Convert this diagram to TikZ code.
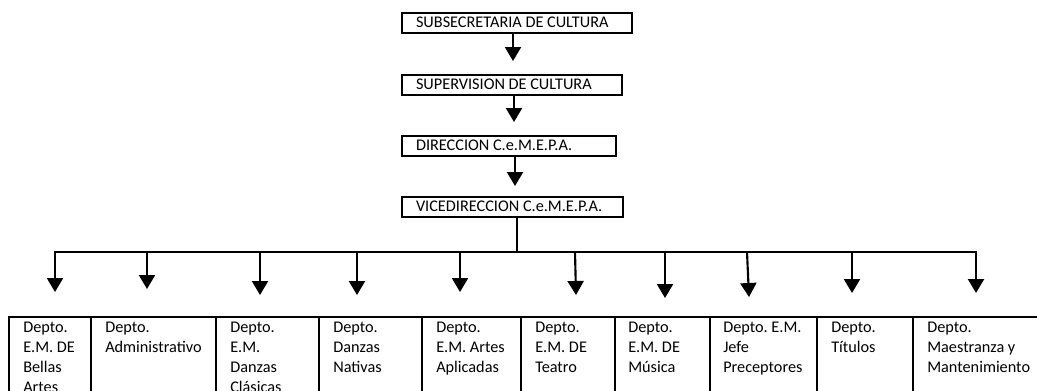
\documentclass[tikz,border=0pt]{standalone}
\usepackage{fontspec}
\setmainfont{Carlito}
\usetikzlibrary{arrows.meta}
\newcommand\dfont{\fontsize{12.2}{15}\selectfont\frenchspacing}
\tikzset{
  box/.style={draw, line width=1.5pt, anchor=north west, inner xsep=10.5pt, inner ysep=0pt, minimum height=15pt, align=flush left, font=\dfont},
  ln/.style={line width=1.5pt},
  arr/.style={line width=1.6pt, -{Triangle[length=10.5pt,width=12pt]}},
  cell/.style={draw, line width=1.5pt, anchor=north west, minimum height=75pt, inner sep=0pt},
  txt/.style={anchor=base west, inner sep=0pt, align=flush left, font=\dfont},
}
\begin{document}
\begin{tikzpicture}[x=0.75pt, y=-0.75pt]
\useasboundingbox (0,0) rectangle (1037,390);
\clip (0,0) rectangle (1037,390);
% top boxes
\node[box, text width=151.5pt] (b1) at (401,12) {\strut SUBSECRETARIA DE CULTURA};
\node[box, text width=144pt] (b2) at (401,74) {\strut SUPERVISION DE CULTURA};
\node[box, text width=139.5pt] (b3) at (401,135) {\strut DIRECCION C.e.M.E.P.A.};
\node[box, text width=144.75pt] (b4) at (401,196) {\strut VICEDIRECCION C.e.M.E.P.A.};
% arrow tips
\coordinate (t1) at (513,61);
\coordinate (t2) at (514,122);
\coordinate (t3) at (515,186);
\draw[arr] (b1.south -| t1) -- (t1);
\draw[arr] (b2.south -| t2) -- (t2);
\draw[arr] (b3.south -| t3) -- (t3);
% bus
\coordinate (j) at (517,252);
\draw[ln] (b4.south -| j) -- (j);
\coordinate (s1) at (55,252);
\coordinate (s2) at (147,252);
\coordinate (s3) at (260,252);
\coordinate (s4) at (357,252);
\coordinate (s5) at (460,252);
\coordinate (s6) at (575,252);
\coordinate (s7) at (665,252);
\coordinate (s8) at (747,252);
\coordinate (s9) at (852,252);
\coordinate (s10) at (976,252);
\draw[ln, line cap=rect] (s1) -- (s10);
\coordinate (d1) at (55,292);
\coordinate (d2) at (147,289);
\coordinate (d3) at (260,295);
\coordinate (d4) at (357,295);
\coordinate (d5) at (460,292);
\coordinate (d6) at (576,295);
\coordinate (d7) at (665,298);
\coordinate (d8) at (749,297);
\coordinate (d9) at (852,293);
\coordinate (d10) at (976,293);
\foreach \i in {1,...,10} {\draw[arr] (s\i) -- (d\i);}
% table cells
\node[cell, minimum width=61.5pt] (c1) at (8,316) {};
\node[cell, minimum width=93.75pt] (c2) at (90,316) {};
\node[cell, minimum width=77.25pt] (c3) at (215,316) {};
\node[cell, minimum width=77.25pt] (c4) at (318,316) {};
\node[cell, minimum width=74.25pt] (c5) at (421,316) {};
\node[cell, minimum width=70.5pt] (c6) at (520,316) {};
\node[cell, minimum width=71.25pt] (c7) at (614,316) {};
\node[cell, minimum width=80.25pt] (c8) at (709,316) {};
\node[cell, minimum width=72pt] (c9) at (816,316) {};
\node[cell, minimum width=101.25pt] (c10) at (912,316) {};
% cell texts
\node[txt, text width=48pt] (x1) at (23,332) {Depto.\\E.M. DE\\Bellas\\Artes};
\node[txt, text width=80pt] (x2) at (105,332) {Depto.\\Administrativo};
\node[txt, text width=64pt] (x3) at (230,332) {Depto.\\E.M.\\Danzas\\Clásicas};
\node[txt, text width=64pt] (x4) at (333,332) {Depto.\\Danzas\\Nativas};
\node[txt, text width=62pt] (x5) at (436,332) {Depto.\\E.M. Artes\\Aplicadas};
\node[txt, text width=58pt] (x6) at (535,332) {Depto.\\E.M. DE\\Teatro};
\node[txt, text width=59pt] (x7) at (628,332) {Depto.\\E.M. DE\\Música};
\node[txt, text width=68pt] (x8) at (723,332) {Depto. E.M.\\Jefe\\Preceptores};
\node[txt, text width=60pt] (x9) at (831,332) {Depto.\\Títulos};
\node[txt, text width=80pt] (x10) at (927,332) {Depto.\\Maestranza y\\Mantenimiento};
\end{tikzpicture}
\end{document}
